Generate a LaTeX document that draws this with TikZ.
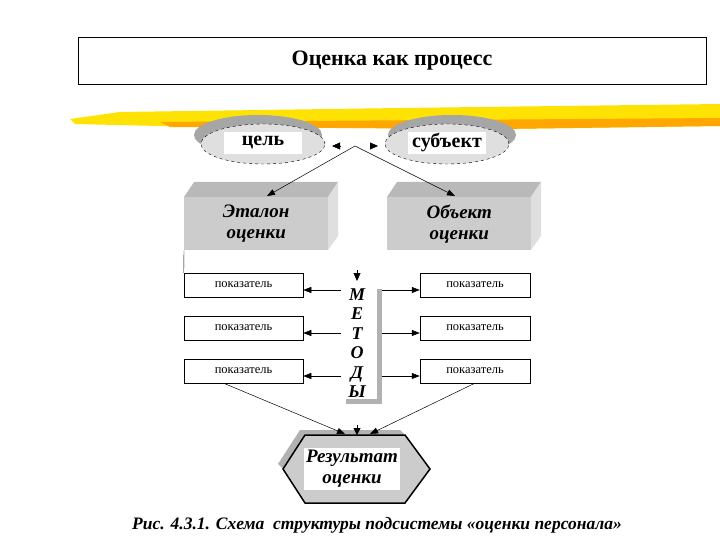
\documentclass[tikz,border=0pt]{standalone}
\usepackage{fontspec}
\setmainfont{Liberation Serif}
\usetikzlibrary{arrows.meta}
\begin{document}
\begin{tikzpicture}[x=1pt,y=-1pt,
  conn/.style={-{Triangle[length=8pt,width=6pt]},line width=0.5pt},
  pbox/.style={draw,line width=0.5pt,minimum height=24pt,inner sep=0pt,font=\fontsize{12.5}{13}\selectfont},
  inner/.style={fill=white,inner sep=2pt},
  bigt/.style={font=\fontsize{19}{21}\selectfont\bfseries\itshape}]
\useasboundingbox (0,0) rectangle (720,540);
\node[draw,minimum width=628pt,minimum height=47pt,inner sep=0pt,font=\fontsize{22}{24}\selectfont\bfseries] (title) at (392,60.5) {Оценка как процесс};
% brush stroke
\fill[yellow!85!orange] (70,119) -- (120,112) -- (400,108) -- (720,104) -- (720,126) -- (500,129) -- (200,127) -- (75,124) -- cycle;
\fill[orange!70!yellow] (160,122) -- (720,118) -- (720,126) -- (500,129) -- (170,127) -- cycle;
% ellipses
\fill[gray!70] (258,135) ellipse (64pt and 20pt);
\fill[gray!70] (452,135) ellipse (64pt and 20pt);
\draw[dashed,fill=gray!25] (263,144) ellipse (62pt and 20pt);
\draw[dashed,fill=gray!25] (447,144) ellipse (62pt and 20pt);
\node[inner,minimum width=78pt,minimum height=22pt,font=\fontsize{20}{21}\selectfont\bfseries] (goal) at (263,143) {цель};
\node[inner,minimum width=78pt,minimum height=22pt,font=\fontsize{20}{21}\selectfont\bfseries] (subj) at (447,143) {субъект};
\coordinate (hub) at (355,146);
\coordinate (la) at (340,146);
\coordinate (ra) at (370,146);
\draw[-{Triangle[length=8pt,width=7pt]}] (la) -- (332,146);
\draw[-{Triangle[length=8pt,width=7pt]}] (ra) -- (378,146);
% 3D boxes
\foreach \x/\n/\t in {184/etalon/{Эталон\\оценки},387/obj/{Объект\\оценки}}{
  \fill[gray!55] (\x,197) -- (\x+10,182) -- (\x+154,182) -- (\x+144,197) -- cycle;
  \fill[gray!25] (\x+144,197) -- (\x+154,182) -- (\x+154,236) -- (\x+144,250) -- cycle;
  \node[fill=gray!40,minimum width=144pt,minimum height=53pt,inner sep=0pt,anchor=north west,align=center,bigt] (\n) at (\x,197) {\t};
}
\draw[conn] (hub) -- (267,196);
\draw[conn] (hub) -- (455,196);
% indicators
\foreach \i/\y in {1/285,2/328,3/371}{
  \node[pbox,minimum width=119pt] (l\i) at (243.5,\y) {показатель};
  \node[pbox,minimum width=110pt] (r\i) at (475,\y) {показатель};
  \coordinate (ml\i) at (341,\y+5);
  \coordinate (mr\i) at (382,\y+5);
  \draw[conn] (ml\i) -- (l\i.east |- ml\i);
  \draw[conn] (mr\i) -- (r\i.west |- mr\i);
}
\draw (etalon.south west) -- (l1.north west);
% methods
\fill[gray!60] (377,289) rectangle (382,404);
\fill[gray!60] (346,399) rectangle (382,404);
\node[align=center,inner sep=0pt,font=\fontsize{18}{19.5}\selectfont\bfseries\itshape] (meth) at (357,343) {М\\Е\\Т\\О\\Д\\Ы};
\draw[-{Triangle[length=8pt,width=7pt]}] (357,270) -- (357,281);
% result hexagon
\fill[gray!60] (278,464) -- (300,430) -- (400,430) -- (405,435) -- (305,435) -- (283,469) -- cycle;
\draw[line width=1.5pt,fill=gray!40] (283,469) -- (305,435) -- (405,435) -- (430,469) -- (405,503) -- (305,503) -- cycle;
\node[inner,align=center,minimum width=92pt,minimum height=40pt,bigt] (res) at (352,469) {Результат\\оценки};
\coordinate (rtop) at (357,435);
\draw[conn] (l3.south west) ++(40,0) -- (345,434);
\draw[conn] (r3.south west) ++(55,0) -- (370,434);
\draw[-{Triangle[length=7pt,width=7pt]}] (357,425) -- (rtop);
\node[font=\fontsize{17.5}{19}\selectfont\bfseries\itshape] (cap) at (377,525) {Рис. 4.3.1. Схема \ структуры подсистемы «оценки персонала»};
\end{tikzpicture}
\end{document}
